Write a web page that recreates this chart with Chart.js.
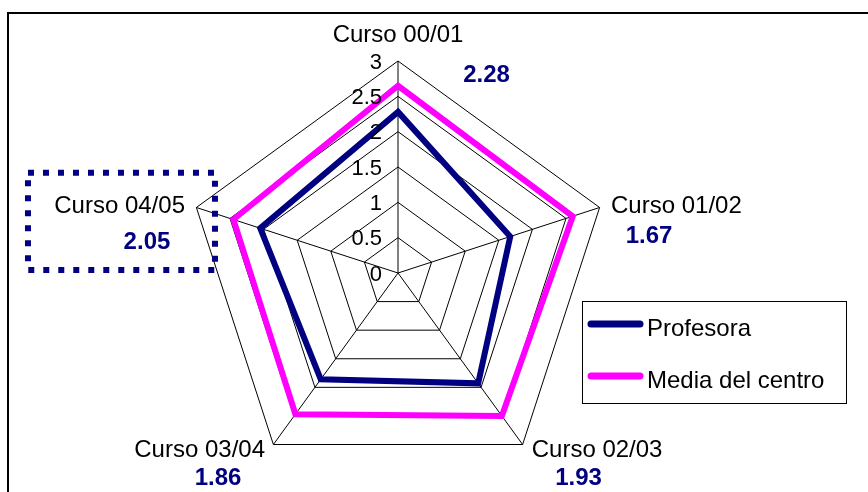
<!DOCTYPE html>
<html>
<head>
<meta charset="utf-8">
<script src="https://cdn.jsdelivr.net/npm/chart.js@4"></script>
<style>
  html, body { margin: 0; padding: 0; background: #fff; }
  canvas { display: block; }
</style>
</head>
<body>
<canvas id="c" width="868" height="492"></canvas>
<script>
// Course years on the spokes and the two series compared on them
const cursos = ['Curso 00/01', 'Curso 01/02', 'Curso 02/03', 'Curso 03/04', 'Curso 04/05'];
const profesora = [2.28, 1.67, 1.93, 1.86, 2.05];
const mediaCentro = [2.65, 2.6, 2.5, 2.47, 2.45];
const serieNombres = ['Profesora', 'Media del centro'];
const escalaMin = 0;
const escalaMax = 3;
const escalaPaso = 0.5;

const FONT = '"Liberation Sans", Arial, Helvetica, sans-serif';
const NAVY = '#000080';
const MAGENTA = '#FF00FF';

// Where each course name and its value sit, relative to the outer vertex of its spoke
const colocacion = [
  { dx: 0,     dy: 19.5 * -1, align: 'center', vdx: 88.5,  vdy: 21 },
  { dx: 11.4,  dy: 5.5,       align: 'left',   vdx: 49.4,  vdy: 35.5 },
  { dx: 9.1,   dy: 12.5,      align: 'left',   vdx: 56,    vdy: 40.5 },
  { dx: -8.4,  dy: 12.5,      align: 'right',  vdx: -55.4, vdy: 40.5 },
  { dx: -11.4, dy: 5.5,       align: 'right',  vdx: -49.4, vdy: 41.5 }
];

const decoraciones = {
  id: 'decoraciones',
  afterDraw(chart) {
    const ctx = chart.ctx;
    const r = chart.scales.r;
    ctx.save();

    // outer frame (top and left edges)
    ctx.strokeStyle = '#000';
    ctx.lineWidth = 2;
    ctx.beginPath();
    ctx.moveTo(868, 13);
    ctx.lineTo(8, 13);
    ctx.lineTo(8, 492);
    ctx.stroke();

    // scale values, right-aligned beside the vertical spoke
    ctx.fillStyle = '#000';
    ctx.font = '22px ' + FONT;
    ctx.textAlign = 'right';
    ctx.textBaseline = 'alphabetic';
    for (let v = escalaMin; v <= escalaMax + 1e-9; v += escalaPaso) {
      const y = r.yCenter - r.getDistanceFromCenterForValue(v);
      ctx.fillText(String(Math.round(v * 10) / 10), r.xCenter - 16, y + 7.5);
    }

    // course names with the teacher's value beneath
    cursos.forEach((nombre, i) => {
      const p = r.getPointPosition(i, r.getDistanceFromCenterForValue(escalaMax));
      const c = colocacion[i];
      ctx.font = '24px ' + FONT;
      ctx.fillStyle = '#000';
      ctx.textAlign = c.align;
      ctx.fillText(nombre, p.x + c.dx, p.y + c.dy);
      ctx.font = 'bold 24px ' + FONT;
      ctx.fillStyle = NAVY;
      ctx.textAlign = 'center';
      ctx.fillText(profesora[i].toFixed(2), p.x + c.vdx, p.y + c.vdy);
    });

    // dotted highlight around the last course
    const p4 = r.getPointPosition(4, r.getDistanceFromCenterForValue(escalaMax));
    ctx.strokeStyle = NAVY;
    ctx.lineWidth = 6;
    ctx.setLineDash([6, 9]);
    ctx.strokeRect(p4.x - 168.4, p4.y - 34.8, 187, 97.3);
    ctx.setLineDash([]);

    // legend
    ctx.strokeStyle = '#000';
    ctx.lineWidth = 1;
    ctx.strokeRect(582.5, 301.5, 264, 102);
    const colores = [NAVY, MAGENTA];
    const filas = [324, 376];
    serieNombres.forEach((nombre, i) => {
      ctx.strokeStyle = colores[i];
      ctx.lineWidth = 7;
      ctx.lineCap = 'round';
      ctx.beginPath();
      ctx.moveTo(591, filas[i]);
      ctx.lineTo(640, filas[i]);
      ctx.stroke();
      ctx.fillStyle = '#000';
      ctx.font = '24px ' + FONT;
      ctx.textAlign = 'left';
      ctx.fillText(nombre, 647, filas[i] + 11.5);
    });

    ctx.restore();
  }
};

new Chart(document.getElementById('c'), {
  type: 'radar',
  data: {
    labels: cursos,
    datasets: [
      {
        label: serieNombres[0],
        data: profesora,
        borderColor: NAVY,
        borderWidth: 6,
        pointRadius: 0,
        fill: false,
        borderJoinStyle: 'miter'
      },
      {
        label: serieNombres[1],
        data: mediaCentro,
        borderColor: MAGENTA,
        borderWidth: 6,
        pointRadius: 0,
        fill: false,
        borderJoinStyle: 'miter'
      }
    ]
  },
  options: {
    responsive: false,
    animation: false,
    devicePixelRatio: 1,
    layout: { padding: { top: 61, left: 0, right: 72, bottom: 7 } },
    plugins: {
      legend: { display: false },
      tooltip: { enabled: false }
    },
    scales: {
      r: {
        min: escalaMin,
        max: escalaMax,
        ticks: { display: false, stepSize: escalaPaso },
        pointLabels: { display: false },
        grid: { color: '#000', lineWidth: 1 },
        angleLines: { color: '#000', lineWidth: 1 }
      }
    }
  },
  plugins: [decoraciones]
});
</script>
</body>
</html>
